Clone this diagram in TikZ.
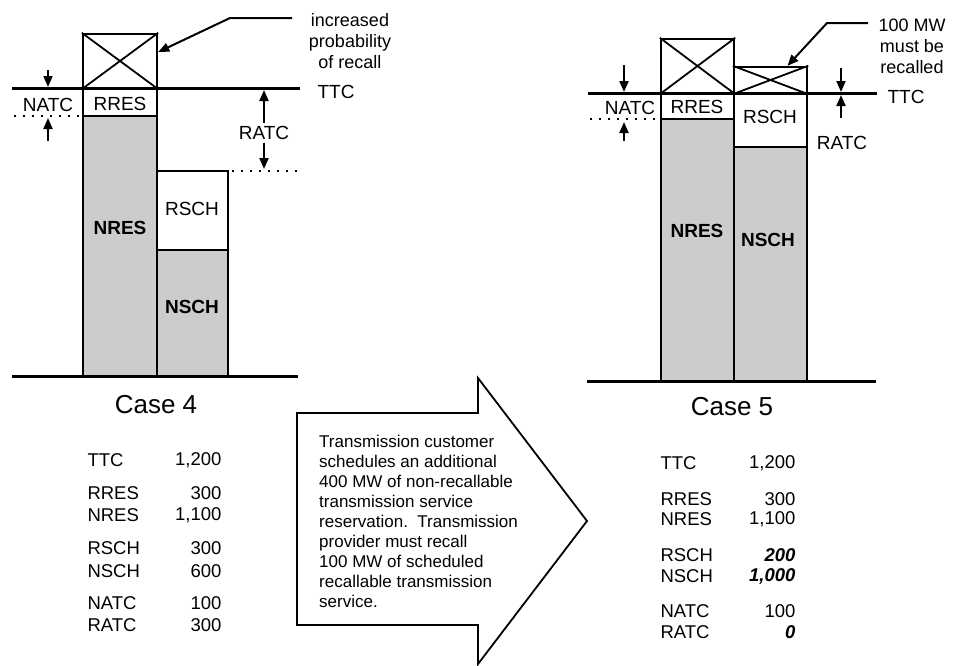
\documentclass[tikz,border=0pt]{standalone}
\usepackage{fontspec}
\setmainfont{Liberation Sans}
\usetikzlibrary{arrows.meta}
\definecolor{stip}{gray}{0.80}
\tikzset{
  bar/.style={draw,line width=2.4pt},
  ground/.style={line width=3pt},
  xbox/.style={draw,line width=2.4pt,inner sep=0pt,fill=white},
  xline/.style={line width=1.8pt},
  dotline/.style={line width=2.2pt,dash pattern=on 2pt off 7pt},
  ptr/.style={line width=2pt,-{Triangle[length=11pt,width=9pt]}},
  lbl/.style={font=\fontsize{19}{21}\selectfont},
  nlbl/.style={font=\fontsize{19}{21}\selectfont\bfseries},
  tbl/.style={font=\fontsize{18.5}{20}\selectfont},
  note/.style={font=\fontsize{18}{21}\selectfont,align=center},
  case/.style={font=\fontsize{26}{28}\selectfont}
}
\begin{document}
\begin{tikzpicture}[x=1pt,y=-1pt]
  \useasboundingbox (0,0) rectangle (955,665);

  \filldraw[bar,fill=stip] (83,116) rectangle (157,376);
  \filldraw[bar,fill=white] (83,88) rectangle (157,116);
  \filldraw[bar,fill=stip] (157,250) rectangle (228,376);
  \filldraw[bar,fill=white] (157,171) rectangle (228,250);
  \node[xbox,minimum width=74pt,minimum height=54pt] (x4) at (120,61) {};
  \draw[xline] (x4.north west)--(x4.south east) (x4.north east)--(x4.south west);
  \draw[ground] (12,88)--(300,88);
  \draw[ground] (12,376)--(298,376);
  \draw[dotline] (14,116)--(83,116);
  \draw[dotline] (232,171)--(300,171);
  \node[lbl] (natc4) at (48,105) {NATC};
  \node[lbl] (rres4) at (120,104) {RRES};
  \node[nlbl] (nres4) at (120,228) {NRES};
  \node[lbl] (rsch4) at (192,209) {RSCH};
  \node[nlbl] (nsch4) at (192,307) {NSCH};
  \node[lbl] (ratc4) at (264,133) {RATC};
  \node[lbl] (ttc4) at (336,92) {TTC};
  \draw[ptr] (48,70)--(48,87);
  \draw[ptr] (48,141)--(48,118);
  \draw[ptr] (ratc4.north)--(264,90);
  \draw[ptr] (ratc4.south)--(264,169);
  \node[note] (inc4) at (350,41) {increased\\probability\\of recall};
  \coordinate (lead4) at (292,18);
  \draw[ptr] (lead4)--(230,18)--([yshift=9pt]x4.east);
  \node[case] (case4) at (156,405) {Case 4};

  \node[tbl,anchor=west] at (84,460) {TTC};  \node[tbl,anchor=east] at (225,460) {1,200};
  \node[tbl,anchor=west] at (84,493) {RRES}; \node[tbl,anchor=east] at (225,493) {300};
  \node[tbl,anchor=west] at (84,515) {NRES}; \node[tbl,anchor=east] at (225,515) {1,100};
  \node[tbl,anchor=west] at (84,548) {RSCH}; \node[tbl,anchor=east] at (225,548) {300};
  \node[tbl,anchor=west] at (84,571) {NSCH}; \node[tbl,anchor=east] at (225,571) {600};
  \node[tbl,anchor=west] at (84,603) {NATC}; \node[tbl,anchor=east] at (225,603) {100};
  \node[tbl,anchor=west] at (84,625) {RATC}; \node[tbl,anchor=east] at (225,625) {300};

  \draw[line width=1.8pt] (297,413)--(478,413)--(478,378)--(587,521)--(478,664)--(478,625)--(297,625)--cycle;
  \node[anchor=north west,align=left,inner sep=0pt,font=\fontsize{17}{20}\selectfont] (memo) at (319,435)
    {Transmission customer\\schedules an additional\\400 MW of non-recallable\\transmission service\\reservation.\ \ Transmission\\provider must recall\\100 MW of scheduled\\recallable transmission\\service.};

  \filldraw[bar,fill=stip] (661,119) rectangle (734,381);
  \filldraw[bar,fill=white] (661,93) rectangle (734,119);
  \filldraw[bar,fill=stip] (734,147) rectangle (807,381);
  \filldraw[bar,fill=white] (734,93) rectangle (807,147);
  \node[xbox,minimum width=73pt,minimum height=54pt] (x5a) at (697.5,66) {};
  \node[xbox,minimum width=73pt,minimum height=26pt] (x5b) at (770.5,80) {};
  \draw[xline] (x5a.north west)--(x5a.south east) (x5a.north east)--(x5a.south west);
  \draw[xline] (x5b.north west)--(x5b.south east) (x5b.north east)--(x5b.south west);
  \draw[ground] (588,93)--(877,93);
  \draw[ground] (587,381)--(876,381);
  \draw[dotline] (590,119)--(661,119);
  \node[lbl] (natc5) at (630,108) {NATC};
  \node[lbl] (rres5) at (697,107) {RRES};
  \node[nlbl] (nres5) at (697,231) {NRES};
  \node[lbl] (rsch5) at (770,117) {RSCH};
  \node[nlbl] (nsch5) at (768,240) {NSCH};
  \node[lbl] (ratc5) at (842,143) {RATC};
  \node[lbl] (ttc5) at (906,97) {TTC};
  \draw[ptr] (624,65)--(624,92);
  \draw[ptr] (624,141)--(624,122);
  \draw[ptr] (841,68)--(841,92);
  \draw[ptr] (841,118)--(841,95);
  \node[note] (rec5) at (912,46) {100 MW\\must be\\recalled};
  \coordinate (lead5) at (868,23);
  \draw[ptr] (lead5)--(827,23)--([xshift=17pt]x5b.north);
  \node[case] (case5) at (732,407) {Case 5};

  \node[tbl,anchor=west] at (657,463) {TTC};  \node[tbl,anchor=east] at (799,463) {1,200};
  \node[tbl,anchor=west] at (657,499) {RRES}; \node[tbl,anchor=east] at (799,499) {300};
  \node[tbl,anchor=west] at (657,519) {NRES}; \node[tbl,anchor=east] at (799,519) {1,100};
  \node[tbl,anchor=west] at (657,555) {RSCH}; \node[tbl,anchor=east] at (799,555) {\textbf{\textit{200}}};
  \node[tbl,anchor=west] at (657,576) {NSCH}; \node[tbl,anchor=east] at (799,576) {\textbf{\textit{1,000}}};
  \node[tbl,anchor=west] at (657,611) {NATC}; \node[tbl,anchor=east] at (799,611) {100};
  \node[tbl,anchor=west] at (657,632) {RATC}; \node[tbl,anchor=east] at (799,632) {\textbf{\textit{0}}};
\end{tikzpicture}
\end{document}
